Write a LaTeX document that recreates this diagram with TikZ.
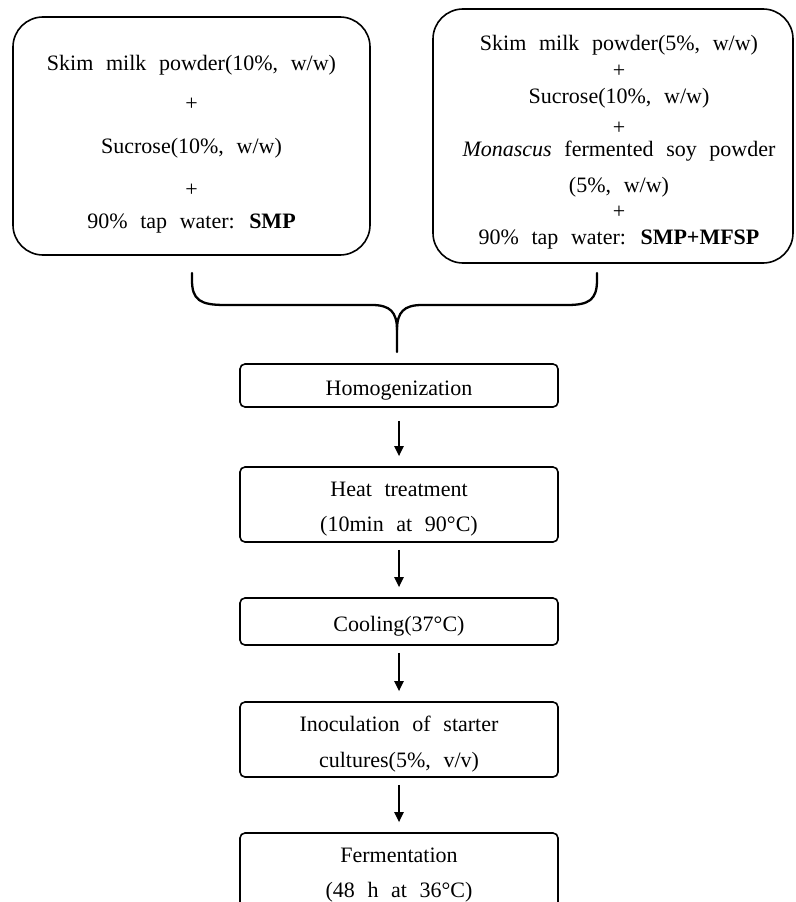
\documentclass[tikz,border=0pt]{standalone}
\usepackage{fontspec}
\setmainfont{Liberation Serif}[WordSpace=2.3]
\usetikzlibrary{arrows.meta}

\newcommand{\toppad}{\rule{0pt}{24pt}}

\begin{document}
\begin{tikzpicture}[x=1pt,y=-1pt,
        every node/.style={font=\fontsize{22}{26}\selectfont},
        mixbox/.style={draw,rounded corners=30pt,line width=1.6pt,inner sep=0pt},
        mixtext/.style={align=center,inner sep=0pt},
        stepbox/.style={draw,rounded corners=5pt,line width=1.6pt,align=center,inner sep=0pt,
            minimum width=318pt},
        flow/.style={line width=2.2pt,-{Triangle[length=10pt,width=9pt]},shorten <=7pt,shorten >=10pt},
        brace/.style={line width=2.3pt,line cap=round,line join=round}]
        \useasboundingbox (0,0) rectangle (795,902);

        % ingredient boxes
        \node[mixbox,minimum width=357pt,minimum height=238pt] (smpbox) at (191.5,136) {};
        \node[mixtext] (smp) at (191.5,144)
            {Skim milk powder(10\%, w/w)\\[14pt] +\\[17pt] Sucrose(10\%, w/w)\\[17pt] +\\[6pt] 90\% tap water: \textbf{SMP}};
        \node[mixbox,minimum width=360pt,minimum height=254pt] (mfspbox) at (613,136) {};
        \node[mixtext] (mfsp) at (619,142)
            {Skim milk powder(5\%, w/w)\\[1pt] +\\[0pt] Sucrose(10\%, w/w)\\[5pt] +\\[-4pt]
             \textit{Monascus} fermented soy powder\\[10pt] (5\%, w/w)\\ +\\ 90\% tap water: \textbf{SMP+MFSP}};

        % brace joining both mixtures
        \coordinate (tip) at (397,352);
        \draw[brace] (192,273) -- (192,280) .. controls (192,300) and (200,305) .. (225,305)
            -- (372,305) .. controls (390,305) and (397,312) .. (397,330) -- (tip);
        \draw[brace] (597,273) -- (597,280) .. controls (597,300) and (589,305) .. (567,305)
            -- (422,305) .. controls (404,305) and (397,312) .. (397,330);

        % process steps
        \node[stepbox,minimum height=43pt] (homog) at (399,385.5) {\toppad Homogenization};
        \node[stepbox,minimum height=75pt] (heat)  at (399,504.5) {\toppad Heat treatment\\[9pt] (10min at 90°C)};
        \node[stepbox,minimum height=47pt] (cool)  at (399,621.5) {\toppad Cooling(37°C)};
        \node[stepbox,minimum height=75pt] (inoc)  at (399,739.5) {\toppad Inoculation of starter\\[10pt] cultures(5\%, v/v)};
        \node[stepbox,minimum height=75pt] (ferm)  at (399,870.5) {\toppad Fermentation\\[9pt] (48 h at 36°C)};

        \draw[flow,shorten <=13pt] (homog) -- (heat);
        \draw[flow] (heat) -- (cool);
        \draw[flow] (cool) -- (inoc);
        \draw[flow] (inoc) -- (ferm);
    \end{tikzpicture}
\end{document}
